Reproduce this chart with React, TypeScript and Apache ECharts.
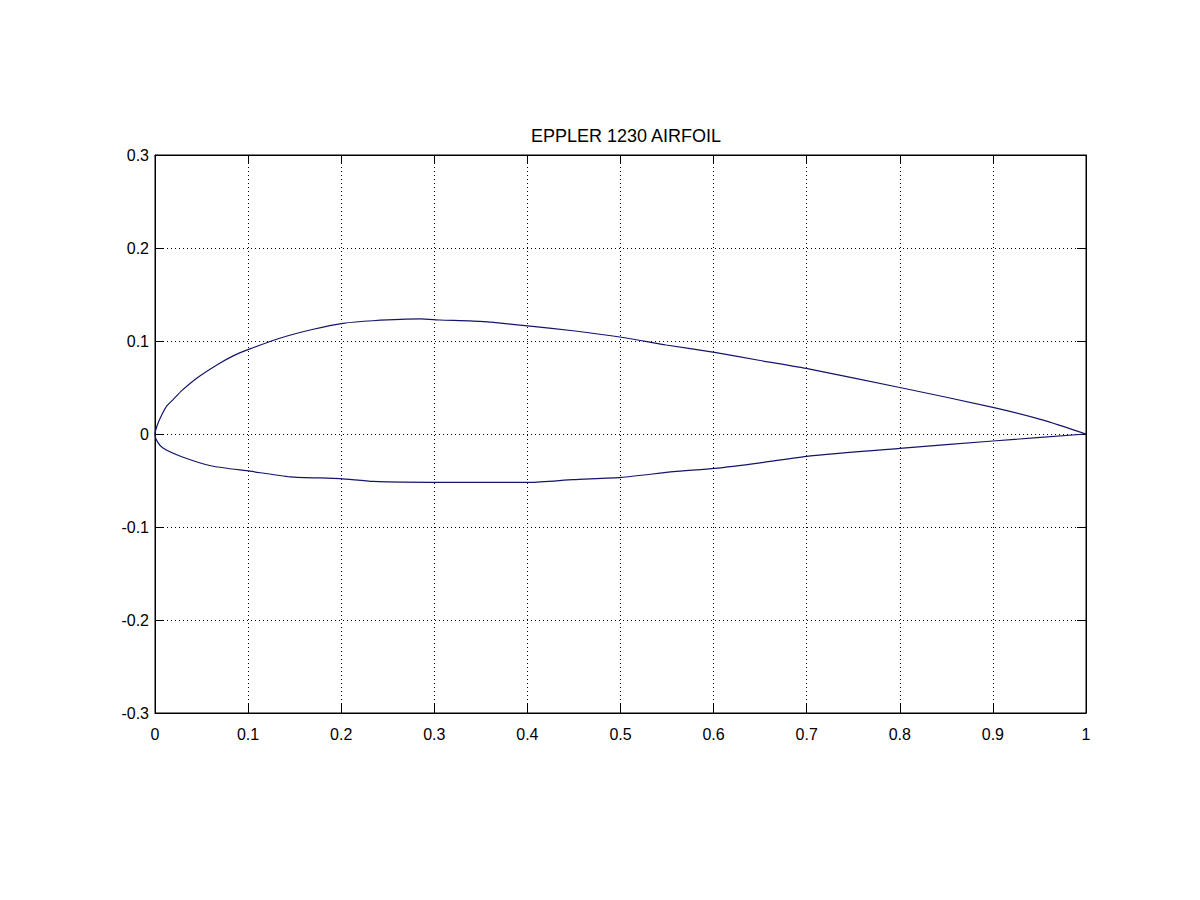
import { useEffect, useRef } from 'react'
import * as echarts from 'echarts'

// Eppler 1230 section (x/c, y/c)
const upperX = [1.0, 0.954, 0.9, 0.8, 0.702, 0.65, 0.601, 0.549, 0.501, 0.449, 0.403, 0.353, 0.306, 0.285, 0.234, 0.202, 0.17, 0.134, 0.102, 0.084, 0.066, 0.0448, 0.0287, 0.0197, 0.0125, 0.0072, 0.0025, 0]
const upperY = [0.0, 0.015, 0.0287, 0.05, 0.07, 0.079, 0.0878, 0.0957, 0.104, 0.111, 0.116, 0.1208, 0.1226, 0.1237, 0.1218, 0.119, 0.1126, 0.103, 0.0915, 0.084, 0.074, 0.06, 0.0466, 0.0373, 0.03, 0.0204, 0.0097, 0]
const lowerX = [0, 0.0025, 0.0089, 0.0287, 0.061, 0.102, 0.145, 0.199, 0.234, 0.306, 0.403, 0.449, 0.501, 0.557, 0.601, 0.65, 0.702, 0.8, 0.9, 1.0]
const lowerY = [0, -0.0082, -0.0154, -0.0244, -0.0344, -0.04, -0.046, -0.048, -0.051, -0.052, -0.052, -0.049, -0.0466, -0.0405, -0.037, -0.031, -0.0237, -0.0154, -0.0075, 0]

const xTicks = { min: 0, max: 1, interval: 0.1 }
const yTicks = { min: -0.3, max: 0.3, interval: 0.1 }
const title = 'EPPLER 1230 AIRFOIL'

const font = '"Liberation Sans", Arial, Helvetica, sans-serif'

export default function App() {
  const chartRef = useRef<HTMLDivElement | null>(null)

  useEffect(() => {
    if (!chartRef.current) {
      return
    }

    const chart = echarts.init(chartRef.current, null, { renderer: 'svg' })
    const points = [
      ...upperX.map((x, i) => [x, upperY[i]]),
      ...lowerX.slice(1).map((x, i) => [x, lowerY[i + 1]]),
    ]

    const tick = { show: true, inside: true, length: 9, lineStyle: { color: '#000' } }
    const grid = { show: true, lineStyle: { color: '#000', type: [1, 3], width: 1 } }
    const fmt = (v: number) => String(Math.round(v * 10) / 10)

    chart.setOption({
      animation: false,
      backgroundColor: '#fff',
      title: {
        text: title,
        left: 621,
        top: 122,
        textAlign: 'center',
        textStyle: { fontFamily: font, fontSize: 18, fontWeight: 'normal', color: '#000' },
      },
      grid: { left: 155, right: 114, top: 155, bottom: 187, show: true, borderColor: '#000', borderWidth: 1 },
      xAxis: [
        {
          type: 'value',
          ...xTicks,
          position: 'bottom',
          axisLine: { show: true, onZero: false, lineStyle: { color: '#000' } },
          axisTick: tick,
          splitLine: grid,
          axisLabel: { color: '#000', fontFamily: font, fontSize: 16, margin: 13, formatter: fmt },
        },
        {
          type: 'value',
          ...xTicks,
          position: 'top',
          axisLine: { show: true, onZero: false, lineStyle: { color: '#000' } },
          axisTick: tick,
          splitLine: { show: false },
          axisLabel: { show: false },
        },
      ],
      yAxis: [
        {
          type: 'value',
          ...yTicks,
          position: 'left',
          axisLine: { show: true, onZero: false, lineStyle: { color: '#000' } },
          axisTick: tick,
          splitLine: grid,
          axisLabel: { color: '#000', fontFamily: font, fontSize: 16, margin: 6, formatter: fmt },
        },
        {
          type: 'value',
          ...yTicks,
          position: 'right',
          axisLine: { show: true, onZero: false, lineStyle: { color: '#000' } },
          axisTick: tick,
          splitLine: { show: false },
          axisLabel: { show: false },
        },
      ],
      series: [
        {
          name: 'airfoil',
          type: 'line',
          xAxisIndex: 0,
          yAxisIndex: 0,
          smooth: 0.2,
          symbol: 'none',
          lineStyle: { color: '#14146a', width: 1.2 },
          data: points,
        },
      ],
    })

    return () => {
      chart.dispose()
    }
  }, [])

  return <div ref={chartRef} style={{ width: 1200, height: 900, position: 'absolute', left: 0, top: 0 }} />
}
